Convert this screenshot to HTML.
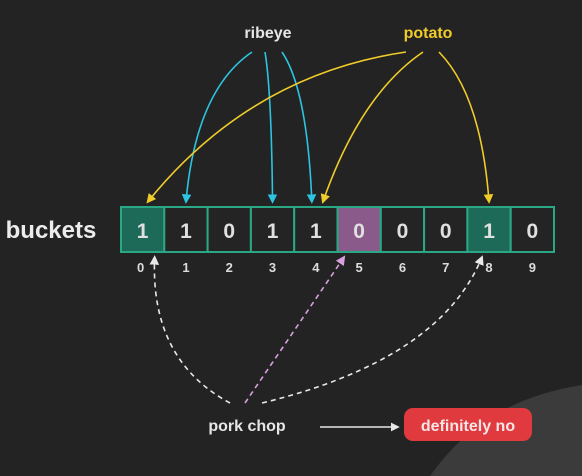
<!DOCTYPE html>
<html><head><meta charset="utf-8"><style>
html,body{margin:0;padding:0;background:#232323;}
svg{display:block;font-family:"Liberation Sans","DejaVu Sans",sans-serif;}
</style></head><body>
<svg id="c" width="582" height="476" viewBox="0 0 582 476">
<defs>
<marker id="mb" viewBox="0 0 10 10" refX="8" refY="5" markerWidth="6" markerHeight="6" orient="auto"><path d="M0,0L10,5L0,10z" fill="#2cc4e0"/></marker>
<marker id="my" viewBox="0 0 10 10" refX="8" refY="5" markerWidth="6" markerHeight="6" orient="auto"><path d="M0,0L10,5L0,10z" fill="#f0cc2a"/></marker>
<marker id="mw" viewBox="0 0 10 10" refX="8" refY="5" markerWidth="6" markerHeight="6" orient="auto"><path d="M0,0L10,5L0,10z" fill="#e8e8e8"/></marker>
<marker id="mp" viewBox="0 0 10 10" refX="8" refY="5" markerWidth="6" markerHeight="6" orient="auto"><path d="M0,0L10,5L0,10z" fill="#d9a0e0"/></marker>
</defs>
<path d="M582,385 C520,395 470,420 430,476 L582,476 Z" fill="#3a3b3a"/>
<text x="268" y="38" text-anchor="middle" fill="#e6e6e6" font-size="16" font-weight="bold">ribeye</text>
<text x="428" y="38" text-anchor="middle" fill="#f0cc2a" font-size="16" font-weight="bold">potato</text>
<text x="51" y="238" text-anchor="middle" fill="#ececec" font-size="24" font-weight="bold">buckets</text>
<g id="cells"></g>
<g id="arrows"></g>
<text x="247" y="431" text-anchor="middle" fill="#e6e6e6" font-size="16" font-weight="bold">pork chop</text>
<line x1="320" y1="427" x2="398" y2="427" stroke="#e8e8e8" stroke-width="1.5" marker-end="url(#mw)"/>
<rect x="404" y="408" width="128" height="33" rx="9" fill="#e03a3e"/>
<text x="468" y="431" text-anchor="middle" fill="#f4e6e6" font-size="16" font-weight="bold">definitely no</text>
</svg>
<script>
const bits = [1,1,0,1,1,0,0,0,1,0];
const indices = ["0","1","2","3","4","5","6","7","8","9"];
const ribeyeHashes = [1,3,4];
const potatoHashes = [0,4,8];
const porkHashes = [0,5,8];
const queryMiss = [5];
const NS='http://www.w3.org/2000/svg';
const x0=121, x1=554, y0=207, y1=252;
const cw=(x1-x0)/bits.length;
const cx=i=>x0+cw*(i+0.5);
function mk(t,a,p){const e=document.createElementNS(NS,t);for(const k in a)e.setAttribute(k,a[k]);p.appendChild(e);return e;}
const cg=document.getElementById('cells');
const filled=new Set(potatoHashes);
bits.forEach((b,i)=>{
  let fill='#242424';
  if(queryMiss.includes(i)) fill='#8a5a8a'; else if(filled.has(i)&&(i===0||i===8)) fill='#1d6a58';
  const r=mk('rect',{x:x0+cw*i,y:y0,width:cw,height:y1-y0,fill:fill,stroke:'#2aa886','stroke-width':2},cg);
  
  
  const t=mk('text',{x:cx(i),y:238,'text-anchor':'middle',fill:'#e0e0e0','font-size':21,'font-weight':'bold'},cg);
  t.textContent=b;
  
  
  const l=mk('text',{x:cx(i)+(i===0?-2:0),y:272,'text-anchor':'middle',fill:'#dcdcdc','font-size':13,'font-weight':'bold'},cg);
  l.textContent=indices[i];
  
  
});
const ag=document.getElementById('arrows');
const rStarts=[252,265,282], pStarts=[406,423,439];
ribeyeHashes.forEach((h,k)=>{
  const sx=rStarts[k], ex=cx(h)+(h===4?-4:0);
  const p=mk('path',{d:`M${sx},52 Q${ex+(sx-ex)*0.15},90 ${ex},202`,fill:'none',stroke:'#2cc4e0','stroke-width':1.6,'marker-end':'url(#mb)'},ag);
  
  
});
potatoHashes.forEach((h,k)=>{
  const sx=pStarts[k], ex=cx(h)+(h===4?7:(h===0?5:0));
  const c=h===0?`250,75`:(h===4?`360,95`:`${ex-8},95`);
  const p=mk('path',{d:`M${sx},52 Q${c} ${ex},202`,fill:'none',stroke:'#f0cc2a','stroke-width':1.6,'marker-end':'url(#my)'},ag);
  
  
});
porkHashes.forEach(h=>{
  let d,col,m;
  if(h===0){d=`M230,403 Q150,360 ${cx(0)+12},257`;col='#e8e8e8';m='mw';}
  else if(h===8){d=`M262,403 Q440,360 ${cx(8)-7},257`;col='#e8e8e8';m='mw';}
  else{d=`M245,403 L${cx(h)-15},257`;col='#d9a0e0';m='mp';}
  const p=mk('path',{d:d,fill:'none',stroke:col,'stroke-width':1.6,'stroke-dasharray':'5,4','marker-end':`url(#${m})`},ag);
  
  
});
</script>
</body></html>
